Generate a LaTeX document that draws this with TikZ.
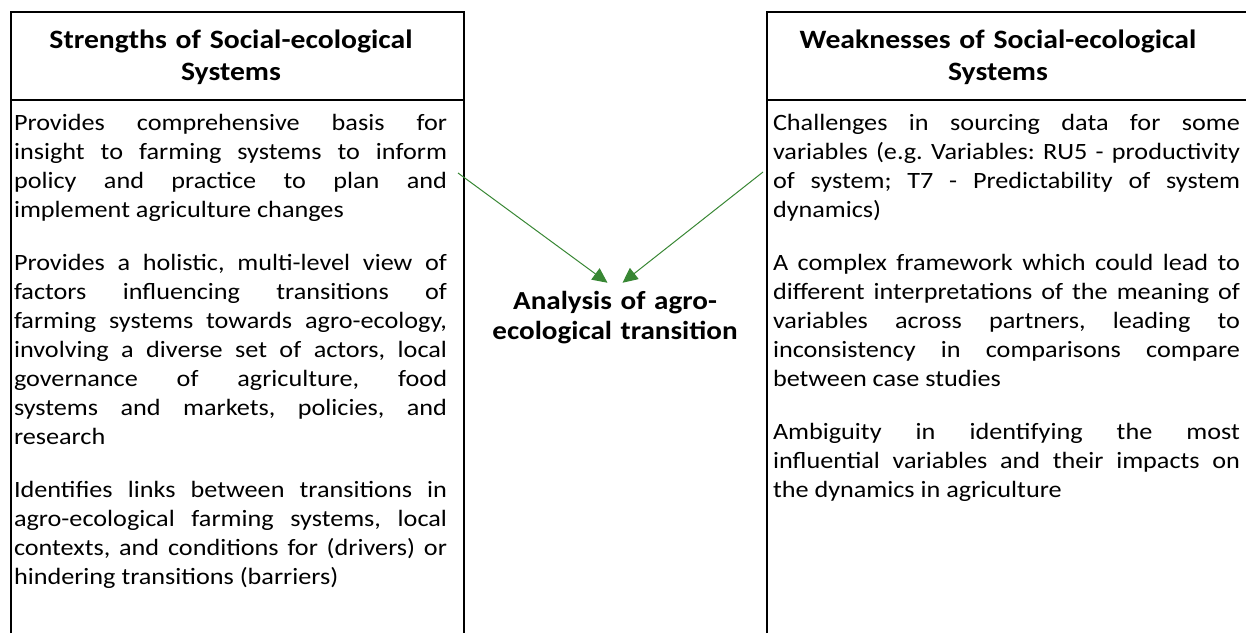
\documentclass[tikz,border=0pt]{standalone}
\usepackage{fontspec}
\setmainfont{Carlito}[FakeStretch=1.12]
\usetikzlibrary{arrows.meta}
\definecolor{linkgreen}{RGB}{56,135,52}
\hbadness=10000
\hyphenpenalty=10000
\exhyphenpenalty=10000
\frenchspacing

\begin{document}
\begin{tikzpicture}[x=1pt,y=-1pt,
      every node/.style={
        text=black,
        outer sep=0pt
      },
      colhead/.style={
        anchor=base,
        align=center,
        text width=440pt,
        font=\bfseries\fontsize{26.5}{32}\selectfont
      },
      colbody/.style={
        anchor=base west,
        align=justify,
        inner ysep=0pt,
        font=\fontsize{23.4}{29}\selectfont,
        execute at begin node={\setlength{\parskip}{24pt}}
      },
      midtext/.style={
        anchor=base,
        align=center,
        text width=280pt,
        inner ysep=8pt,
        font=\bfseries\fontsize{26}{30}\selectfont
      },
      frame/.style={line width=1.3pt},
      link/.style={draw=linkgreen, line width=1pt,
        -{Triangle[length=15pt,width=14pt,fill=linkgreen]}}
    ]
      \useasboundingbox (0,0) rectangle (1246,633);

      % left and right columns
      \draw[frame] (11,633) |- (464,12) -- (464,633);
      \draw[frame] (11,100) -- (464,100);
      \draw[frame] (767,633) |- (1250,12);
      \draw[frame] (767,100) -- (1250,100);

      \node[colhead] (strhead) at (231,48) {Strengths of Social-ecological\\Systems};
      \node[colhead] (weakhead) at (998,48) {Weaknesses of Social-ecological\\Systems};

      \node[colbody, inner xsep=3pt, text width=433pt] (strbody) at (11,130) {%
        Provides comprehensive basis for\linebreak
        insight to farming systems to inform\linebreak
        policy and practice to plan and\linebreak
        implement agriculture changes\par
        Provides a holistic, multi-level view of\linebreak
        factors influencing transitions of\linebreak
        farming systems towards agro-ecology,\linebreak
        involving a diverse set of actors, local\linebreak
        governance of agriculture, food\linebreak
        systems and markets, policies, and\linebreak
        research\par
        Identifies links between transitions in\linebreak
        agro-ecological farming systems, local\linebreak
        contexts, and conditions for (drivers) or\linebreak
        hindering transitions (barriers)};

      \node[colbody, inner xsep=6pt, text width=467pt] (weakbody) at (767,130) {%
        Challenges in sourcing data for some\linebreak
        variables (e.g. Variables: RU5 - productivity\linebreak
        of system; T7 - Predictability of system\linebreak
        dynamics)\par
        A complex framework which could lead to\linebreak
        different interpretations of the meaning of\linebreak
        variables across partners, leading to\linebreak
        inconsistency in comparisons compare\linebreak
        between case studies\par
        Ambiguity in identifying the most\linebreak
        influential variables and their impacts on\linebreak
        the dynamics in agriculture};

      % centre
      \node[midtext] (analysis) at (615,309) {Analysis of agro-\\ecological transition};

      \coordinate (strout) at (458,173);
      \coordinate (weakout) at (763,172);

      \draw[link] (strout) -- ([xshift=-7.5pt]analysis.north);
      \draw[link] (weakout) -- ([xshift=7.5pt]analysis.north);
    \end{tikzpicture}
\end{document}
